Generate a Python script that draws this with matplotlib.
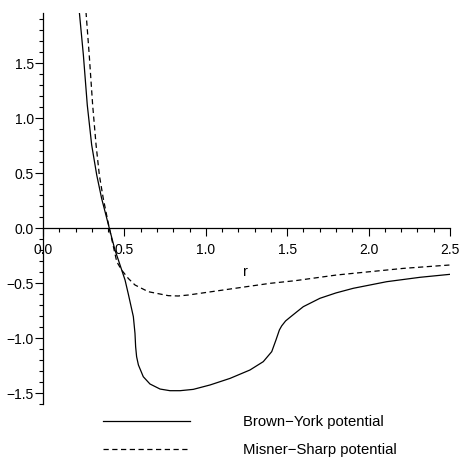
import matplotlib
matplotlib.use("Agg")
import matplotlib.pyplot as plt
import numpy as np

plt.rcParams["font.family"] = ["Liberation Sans", "DejaVu Sans"]

# Brown-York potential (solid)
by_r = [0.223, 0.248, 0.272, 0.299, 0.33, 0.36, 0.407, 0.442, 0.463, 0.504,
        0.524, 0.555, 0.565, 0.569, 0.575, 0.586, 0.616, 0.657, 0.719, 0.78,
        0.842, 0.923, 1.026, 1.149, 1.271, 1.353, 1.405, 1.431, 1.452, 1.466,
        1.490, 1.517, 1.559, 1.599, 1.701, 1.80, 1.906, 2.111, 2.316, 2.5]
by_v = [1.966, 1.573, 1.118, 0.755, 0.482, 0.27, 0.0, -0.2, -0.291, -0.473,
        -0.60, -0.806, -0.958, -1.079, -1.17, -1.245, -1.352, -1.418, -1.464, -1.479,
        -1.479, -1.467, -1.427, -1.367, -1.291, -1.215, -1.124, -1.018, -0.927, -0.89,
        -0.845, -0.812, -0.762, -0.715, -0.639, -0.59, -0.548, -0.488, -0.448, -0.421]

# Misner-Sharp potential (dashed)
ms_r = [0.264, 0.284, 0.305, 0.326, 0.346, 0.37, 0.407, 0.453, 0.483, 0.525,
        0.565, 0.647, 0.77, 0.83, 0.893, 1.138, 1.394, 1.548, 1.804, 2.213, 2.5]
ms_v = [1.966, 1.573, 1.118, 0.755, 0.482, 0.27, 0.0, -0.306, -0.382, -0.46,
        -0.518, -0.579, -0.615, -0.618, -0.609, -0.557, -0.503, -0.479, -0.427, -0.367, -0.336]

fig = plt.figure(figsize=(4.59, 4.57), dpi=100)
ax = fig.add_axes([43 / 459, 53 / 457, 407 / 459, 391 / 457])

ax.plot(by_r, by_v, color="black", linewidth=0.9, label="Brown\u2212York potential")
ax.plot(ms_r, ms_v, color="black", linewidth=0.9, linestyle=(0, (4.2, 2.8)),
        label="Misner\u2212Sharp potential")

ax.set_xlim(0, 2.5)
ax.set_ylim(-1.6, 1.955)

ax.spines[["top", "right"]].set_visible(False)
ax.spines["left"].set_position(("data", 0))
ax.spines["bottom"].set_position(("data", 0))
for s in ("left", "bottom"):
    ax.spines[s].set_linewidth(0.9)

ax.set_xticks(np.arange(0, 2.51, 0.5))
ax.set_xticklabels(["0.0", "0.5", "1.0", "1.5", "2.0", "2.5"])
ax.set_xticks(np.arange(0, 2.51, 0.1), minor=True)
ax.set_yticks([-1.5, -1.0, -0.5, 0.0, 0.5, 1.0, 1.5])
ax.set_yticklabels(["\u22121.5", "\u22121.0", "\u22120.5", "0.0", "0.5", "1.0", "1.5"])
ax.set_yticks(np.arange(-1.6, 1.95, 0.1), minor=True)

ax.tick_params(axis="both", which="both", direction="out", width=0.8,
               labelsize=10, color="black")
ax.tick_params(axis="both", which="major", length=6, pad=0.5)
ax.tick_params(axis="both", which="minor", length=3)
ax.tick_params(axis="x", pad=5)

ax.text(1.245, -0.4, "r", fontsize=10.5, ha="center", va="center")

fig.legend(loc="upper left", bbox_to_anchor=(90 / 459, 1 - 402 / 457),
           frameon=False, fontsize=10.7, handlelength=5.85, handletextpad=3.55,
           labelspacing=0.95)

fig.savefig("out.png", dpi=100)
